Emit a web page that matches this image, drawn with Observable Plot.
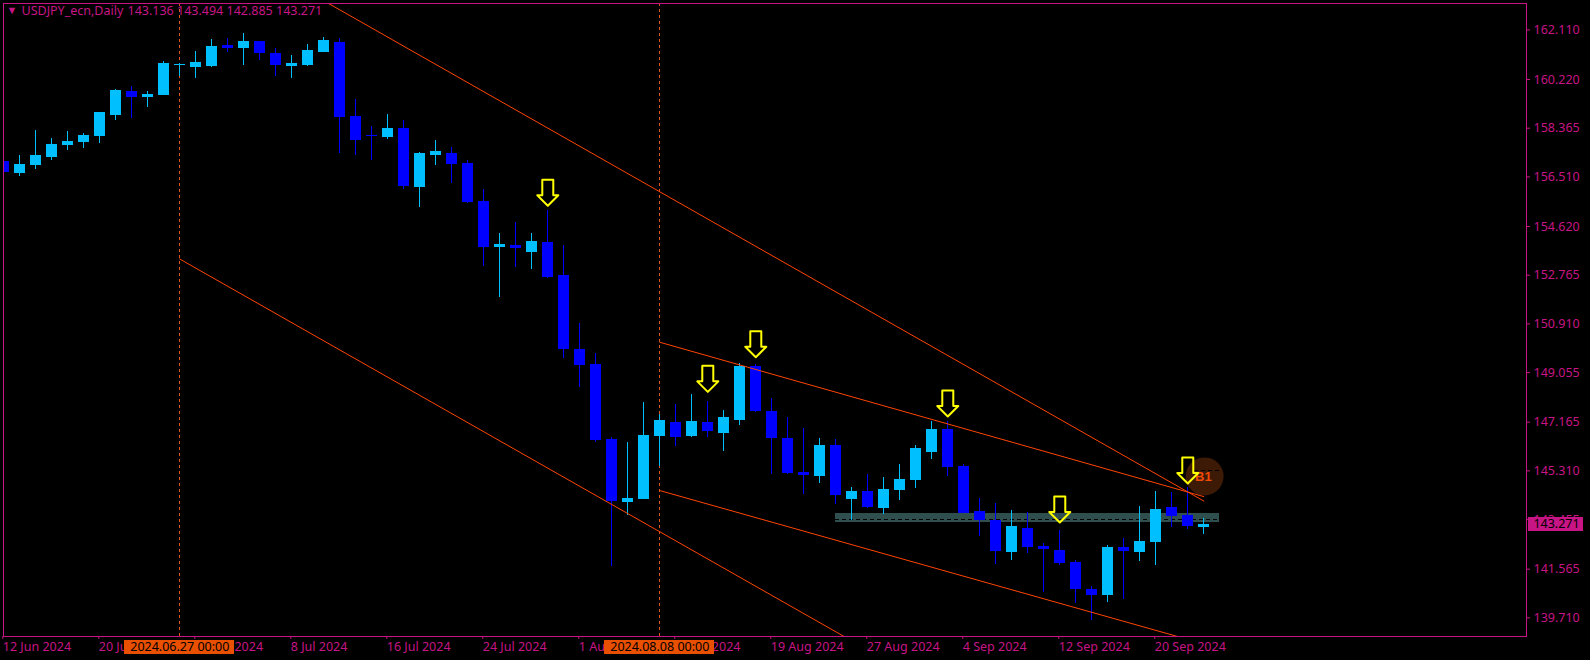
<!DOCTYPE html>
<html>
<head>
<meta charset="utf-8">
<script src="https://cdn.jsdelivr.net/npm/d3@7"></script>
<script src="https://cdn.jsdelivr.net/npm/@observablehq/plot@0.6"></script>
<style>
html,body{margin:0;padding:0;background:#000;overflow:hidden}
svg{display:block}
svg rect{shape-rendering:crispEdges}
svg line{shape-rendering:crispEdges}
</style>
</head>
<body>
<div id="chart"></div>
<script>
const opens = [157.10,156.65,156.94,157.25,157.71,157.82,158.05,158.85,159.76,159.53,159.61,160.74,160.68,160.72,161.52,161.40,161.67,161.21,160.72,160.75,161.25,161.63,158.81,158.10,158.01,158.35,156.11,157.32,157.40,157.02,155.57,153.82,153.90,153.63,154.01,152.75,149.94,149.36,146.51,144.11,144.22,146.62,147.15,146.62,147.15,146.73,147.23,149.28,147.57,146.54,145.25,145.10,146.28,144.22,144.53,143.88,144.56,144.94,146.01,146.89,145.48,143.76,143.42,142.20,143.11,142.43,142.28,141.82,140.79,140.56,142.39,142.20,142.58,143.92,143.61,143.136];
const highs = [157.40,157.32,158.28,157.97,158.24,158.16,158.96,159.84,159.95,159.76,160.91,160.83,161.29,161.74,161.78,161.97,161.67,161.40,161.14,161.55,161.82,161.78,159.46,158.43,158.89,158.66,157.44,157.90,157.63,157.13,156.03,154.35,154.77,154.35,155.23,153.90,150.93,149.78,146.58,146.39,147.91,147.46,147.84,148.22,147.95,147.61,149.40,149.36,148.07,147.34,146.93,146.54,146.51,144.68,145.17,145.06,145.55,146.28,147.19,147.19,145.55,144.26,144.07,143.80,143.73,142.54,143.04,141.90,140.91,142.47,142.73,143.95,144.53,144.49,144.68,143.494];
const lows = [155.69,156.52,156.79,157.13,157.51,157.59,157.78,158.66,158.73,159.15,159.61,160.33,160.26,160.68,161.25,160.75,160.94,160.33,160.26,160.72,161.25,157.40,157.32,157.13,157.94,156.03,155.34,156.94,156.26,155.50,153.10,151.91,153.06,152.98,152.64,149.59,148.49,146.39,141.67,143.61,144.22,145.48,146.24,146.58,146.58,146.05,147.04,147.53,145.17,145.17,144.41,144.83,144.03,143.42,143.88,143.65,144.18,144.64,145.74,145.10,143.69,142.81,141.75,141.90,142.16,140.68,141.71,140.26,139.61,140.30,140.41,141.86,141.71,143.15,143.08,142.885];
const closes = [156.69,156.98,157.32,157.74,157.86,158.09,158.96,159.80,159.53,159.65,160.83,160.79,160.87,161.48,161.40,161.67,161.21,160.75,160.83,161.33,161.71,158.77,157.90,158.06,158.35,156.14,157.40,157.48,156.98,155.54,153.82,153.93,153.78,154.05,152.68,149.94,149.32,146.47,144.15,144.26,146.66,147.23,146.58,147.19,146.81,147.34,149.28,147.57,146.54,145.21,145.14,146.28,144.37,144.53,143.92,144.60,144.98,146.16,146.89,145.44,143.69,143.42,142.24,143.19,142.39,142.31,141.78,140.79,140.56,142.39,142.24,142.62,143.84,143.57,143.19,143.271];

const priceTicks = [162.110,160.220,158.365,156.510,154.620,152.765,150.910,149.055,147.165,145.310,143.455,141.565,139.710];
const dateTicks = [0,6,12,18,24,30,36,42,48,54,60,66,72];
const dateLabels = ["12 Jun 2024","20 Jun 2024","28 Jun 2024","8 Jul 2024","16 Jul 2024","24 Jul 2024","1 Aug 2024","9 Aug 2024","19 Aug 2024","27 Aug 2024","4 Sep 2024","12 Sep 2024","20 Sep 2024"];

const markerBars = [11,41];
const markerLabels = ["2024.06.27 00:00","2024.08.08 00:00"];

const trendLines = [
  [[20.3,163.116],[75,144.16]],
  [[11,153.38],[52.52,139.0]],
  [[41,150.21],[75,144.33]],
  [[41,144.56],[73.36,139.0]]
];
const arrowBars = [34,44,47,59,66,74];
const arrowPrices = [155.41,148.32,149.64,147.38,143.345,144.83];

const bars = opens.map((o,i)=>({i,o,h:highs[i],l:lows[i],c:closes[i],up:closes[i]>=o}));
const CYAN="#00BFFF",BLUE="#0000FF",RED="#FF4500",MAG="#C71585",FONT="'Noto Sans',sans-serif";

const arrowShape={draw(ctx){
  ctx.moveTo(0,0);ctx.lineTo(-10.5,-10.5);ctx.lineTo(-5.5,-10.5);ctx.lineTo(-5.5,-26);
  ctx.lineTo(5.5,-26);ctx.lineTo(5.5,-10.5);ctx.lineTo(10.5,-10.5);ctx.closePath();
}};
const one=[0];
const chart=Plot.plot({
  width:1590,height:660,
  marginLeft:3,marginTop:3,marginRight:64,marginBottom:24,
  style:{background:"#000",fontFamily:FONT,fontSize:"12.5px"},
  x:{type:"linear",domain:[-0.019,95.17],axis:null},
  y:{type:"linear",domain:[139.0,163.116],axis:null},
  marks:[
    // resistance zone
    Plot.rect(one,{x1:()=>52,x2:()=>76,y1:()=>143.69,y2:()=>143.345,fill:"#2F4F4F"}),
    Plot.ruleY([143.45],{x1:52,x2:76,stroke:"#000",strokeDasharray:"4,3"}),
    // B1 circle
    Plot.dot([{x:75.05,y:145.10}],{x:"x",y:"y",r:19,fill:"#3D1A05"}),
    Plot.ruleY([145.31],{x1:74.4,x2:76,stroke:"#000",strokeDasharray:"4,3"}),
    Plot.text(["B1"],{x:()=>74.97,y:()=>145.07,text:d=>d,fill:"#F04A08",fontSize:13,fontWeight:"bold",fontFamily:"'Liberation Sans',sans-serif"}),
    // date markers
    Plot.ruleX(markerBars,{y1:163.116,y2:139.0,stroke:"#E0561A",strokeDasharray:"3,3"}),
    // candles
    Plot.ruleX(bars,{x:"i",y1:"h",y2:"l",stroke:d=>d.up?CYAN:BLUE,clip:true}),
    Plot.rect(bars,{x1:d=>d.i-0.34,x2:d=>d.i+0.34,y1:d=>Math.max(d.o,d.c),y2:d=>Math.min(d.o,d.c),fill:d=>d.up?CYAN:BLUE,clip:true}),
    // trend lines
    ...trendLines.map(t=>Plot.line(t,{x:"0",y:"1",stroke:RED,strokeWidth:1,clip:true})),
    // arrows
    Plot.vector(arrowBars,{x:d=>d,y:(d,i)=>arrowPrices[i],anchor:"start",length:26,shape:arrowShape,stroke:"#FFFF00",strokeWidth:2,fill:"none"}),
    // frame
    Plot.frame({stroke:MAG}),
    // y axis
    Plot.axisY(priceTicks,{anchor:"right",tickSize:3,tickPadding:4,tickFormat:d=>d.toFixed(3),stroke:MAG,color:MAG,fill:MAG,label:null,fontSize:12.5}),
    // x axis
    Plot.axisX(dateTicks,{anchor:"bottom",tickSize:3,tickPadding:3,tickFormat:(d,i)=>dateLabels[i],stroke:MAG,fill:MAG,textAnchor:"start",label:null,fontSize:12.5,dx:-1}),
    // date tags
    Plot.rect(markerBars,{x1:d=>d-3.44,x2:d=>d+3.44,y1:()=>138.85,y2:()=>138.32,fill:"#E85000"}),
    Plot.text(markerBars,{x:d=>d,y:()=>138.585,text:(d,i)=>markerLabels[i],fill:"#000",fontSize:12.5}),
    // last price tag
    Plot.rect(one,{x1:()=>95.3,x2:()=>98.74,y1:()=>143.53,y2:()=>143.0,fill:MAG}),
    Plot.text(["143.271"],{x:()=>95.6,y:()=>143.271,text:d=>d,textAnchor:"start",fill:"#000",fontSize:12.5}),
    // header
    Plot.text(["▼"],{frameAnchor:"top-left",dx:3,dy:3,text:d=>d,fill:MAG,fontSize:11}),
    Plot.text(["USDJPY_ecn,Daily"],{frameAnchor:"top-left",dx:18,dy:3,text:d=>d,fill:MAG,fontSize:12.5}),
    Plot.text(["143.136 143.494 142.885 143.271"],{frameAnchor:"top-left",dx:124,dy:3,text:d=>d,fill:MAG,fontSize:12.5})
  ]
});
document.getElementById("chart").appendChild(chart);
</script>
</body>
</html>
